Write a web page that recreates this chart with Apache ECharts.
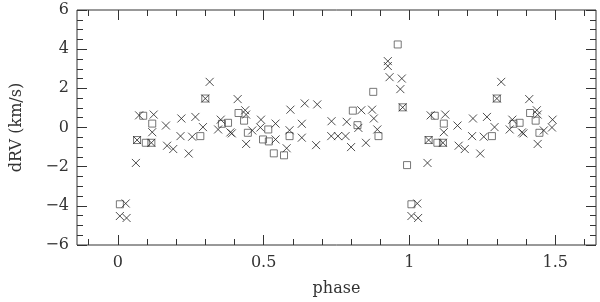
<!DOCTYPE html>
<html>
<head>
<meta charset="utf-8">
<script src="https://cdn.jsdelivr.net/npm/echarts@6/dist/echarts.min.js"></script>
<style>
  html, body { margin: 0; padding: 0; background: #fff; }
  #chart { width: 600px; height: 302px; }
</style>
</head>
<body>
<div id="chart"></div>
<script>
// radial velocity residuals, folded on phase (points below repeatBelow are drawn again at phase + 1)
const crossPhase = [0.007, 0.027, 0.030, 0.062, 0.066, 0.073, 0.115, 0.118, 0.123, 0.165,
  0.169, 0.190, 0.215, 0.218, 0.243, 0.255, 0.266, 0.292, 0.300, 0.315,
  0.344, 0.353, 0.386, 0.391, 0.411, 0.437, 0.440, 0.440, 0.461, 0.491,
  0.489, 0.541, 0.541, 0.579, 0.589, 0.592, 0.631, 0.631, 0.641, 0.680,
  0.684, 0.732, 0.733, 0.755, 0.781, 0.785, 0.800, 0.825, 0.835, 0.851,
  0.872, 0.878, 0.890, 0.926, 0.926, 0.932, 0.969, 0.974, 0.977]
const crossRV = [-4.52, -3.88, -4.62, -1.81, -0.64, 0.62, -0.78, -0.24, 0.66, 0.10,
  -0.93, -1.10, -0.44, 0.46, -1.33, -0.47, 0.54, 0.02, 1.48, 2.33,
  -0.10, 0.40, -0.25, -0.30, 1.45, 0.88, 0.66, -0.84, -0.15, 0.40,
  0.00, 0.20, -0.61, -1.06, -0.14, 0.91, 0.19, -0.52, 1.23, -0.90,
  1.18, -0.44, 0.32, -0.44, -0.44, 0.29, -1.00, -0.02, 0.88, -0.78,
  0.91, 0.46, -0.10, 3.39, 3.14, 2.57, 1.96, 2.50, 1.03]

const squarePhase = [0.007, 0.066, 0.087, 0.096, 0.115, 0.118, 0.283, 0.300, 0.357, 0.378,
  0.414, 0.433, 0.446, 0.498, 0.516, 0.518, 0.535, 0.570, 0.589, 0.806,
  0.822, 0.876, 0.894, 0.960, 0.977, 0.992]
const squareRV = [-3.92, -0.64, 0.60, -0.78, -0.78, 0.20, -0.44, 1.48, 0.19, 0.24,
  0.74, 0.35, -0.27, -0.61, -0.10, -0.71, -1.32, -1.42, -0.44, 0.86,
  0.12, 1.82, -0.44, 4.24, 1.03, -1.92]

const repeatBelow = 0.495

const xMajorTicks = [0, 0.5, 1, 1.5]
const xMinorTicks = [-0.1, 0, 0.1, 0.2, 0.3, 0.4, 0.5, 0.6, 0.7, 0.8, 0.9, 1, 1.1, 1.2, 1.3, 1.4, 1.5, 1.6]

function folded(phase, rv) {
  let pts = phase.map((p, i) => [p, rv[i]])
  phase.forEach((p, i) => {
    if (p < repeatBelow) pts.push([p + 1, rv[i]])
  })
  return pts
}

const font = 'DejaVu Serif'
const ink = '#333'

function xAxisDef(pos, ticks, len, labels) {
  return {
    type: 'value',
    position: pos,
    min: -0.14,
    max: 1.64,
    name: labels ? 'phase' : '',
    nameLocation: 'middle',
    nameGap: 36,
    nameTextStyle: { fontFamily: font, fontSize: 16, color: ink },
    axisLine: { show: false, onZero: false },
    splitLine: { show: false },
    axisTick: { show: true, inside: true, length: len, customValues: ticks, lineStyle: { color: ink } },
    axisLabel: labels
      ? { show: true, customValues: xMajorTicks, margin: 10, fontFamily: font, fontSize: 16, color: ink }
      : { show: false }
  }
}

function yAxisDef(pos, labels) {
  return {
    type: 'value',
    position: pos,
    min: -6,
    max: 6,
    interval: 2,
    name: labels ? 'dRV (km/s)' : '',
    nameLocation: 'middle',
    nameGap: 52,
    nameRotate: 90,
    nameTextStyle: { fontFamily: font, fontSize: 16, color: ink },
    axisLine: { show: false, onZero: false },
    splitLine: { show: false },
    axisTick: { show: true, inside: true, length: 10, lineStyle: { color: ink } },
    minorTick: { show: true, splitNumber: 4, length: 6, lineStyle: { color: ink } },
    axisLabel: {
      show: labels,
      margin: 8,
      fontFamily: font,
      fontSize: 16,
      color: ink,
      formatter: v => v < 0 ? '\u2212' + (-v) : String(v)
    }
  }
}

const option = {
  animation: false,
  grid: { left: 77, right: 4, top: 10, bottom: 55, show: true, borderColor: ink, borderWidth: 1 },
  xAxis: [
    xAxisDef('bottom', xMajorTicks, 10, true),
    xAxisDef('bottom', xMinorTicks, 6, false),
    xAxisDef('top', xMajorTicks, 10, false),
    xAxisDef('top', xMinorTicks, 6, false)
  ],
  yAxis: [yAxisDef('left', true), yAxisDef('right', false)],
  series: [
    {
      type: 'scatter',
      data: folded(squarePhase, squareRV),
      symbol: 'rect',
      symbolSize: 7,
      itemStyle: { color: 'rgba(0,0,0,0)', borderColor: '#555', borderWidth: 1 }
    },
    {
      type: 'scatter',
      data: folded(crossPhase, crossRV),
      symbol: 'path://M0,0L10,10M10,0L0,10',
      symbolSize: 8,
      itemStyle: { color: 'rgba(0,0,0,0)', borderColor: '#222', borderWidth: 1 }
    }
  ]
}

let chart = echarts.init(document.getElementById('chart'))
chart.setOption(option)
</script>
</body>
</html>
